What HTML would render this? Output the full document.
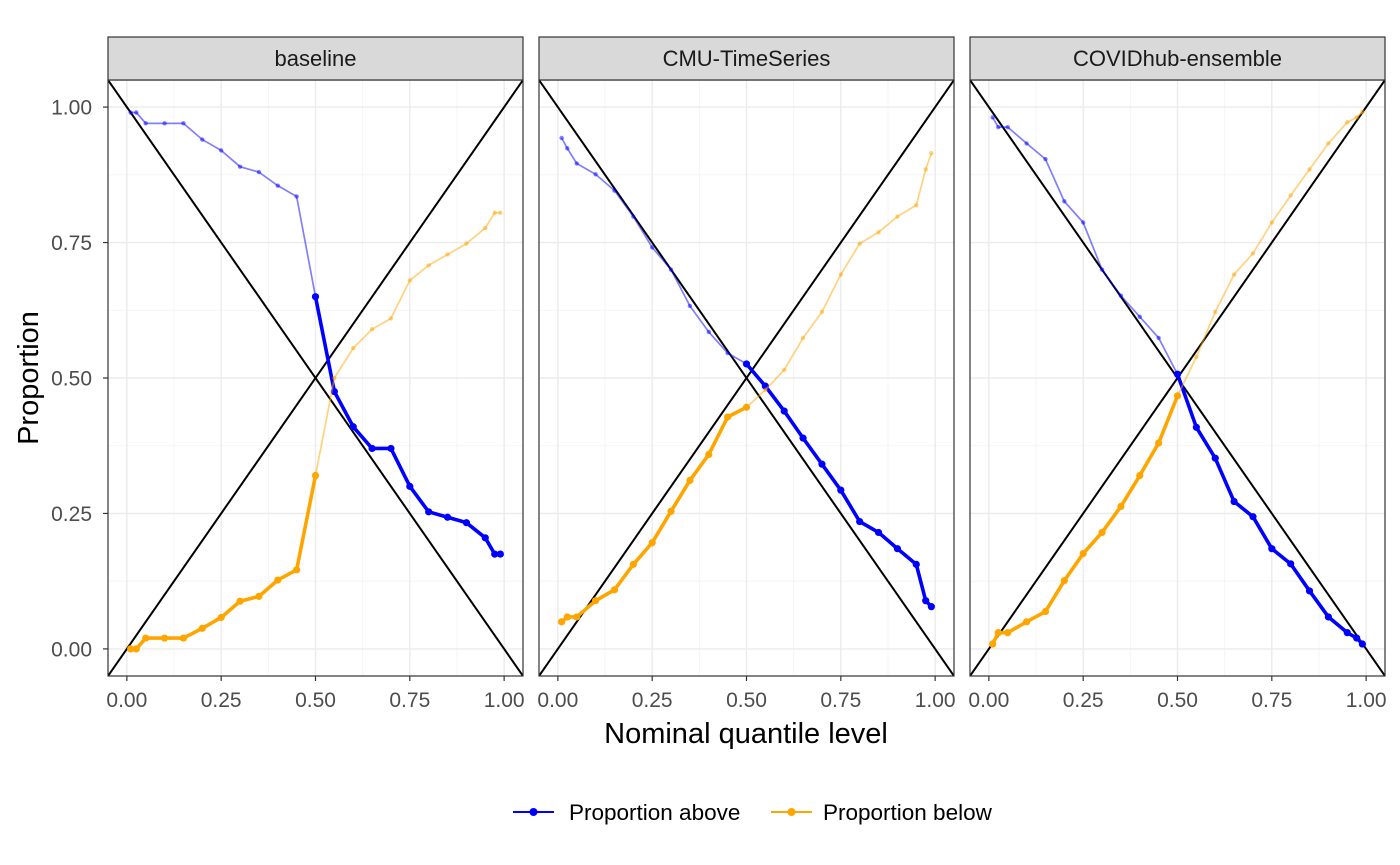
<!DOCTYPE html>
<html><head><meta charset="utf-8"><style>
html,body{margin:0;padding:0;background:#fff;}
svg{display:block;font-family:"Liberation Sans",Arial,sans-serif;}
</style></head><body>
<svg id="chart" width="1400" height="865"></svg>
<script>
const quantiles=[0.01,0.025,0.05,0.1,0.15,0.2,0.25,0.3,0.35,0.4,0.45,0.5,0.55,0.6,0.65,0.7,0.75,0.8,0.85,0.9,0.95,0.975,0.99];
const panelNames=["baseline","CMU-TimeSeries","COVIDhub-ensemble"];
const baselineAbove=[0.99,0.99,0.97,0.97,0.97,0.94,0.92,0.89,0.88,0.855,0.835,0.65,0.475,0.41,0.37,0.37,0.30,0.253,0.243,0.233,0.205,0.175,0.175];
const baselineBelow=[0,0,0.02,0.02,0.02,0.038,0.058,0.088,0.097,0.127,0.146,0.32,0.50,0.555,0.59,0.61,0.68,0.708,0.728,0.748,0.777,0.805,0.805];
const cmuAbove=[0.943,0.924,0.896,0.876,0.846,0.798,0.741,0.70,0.633,0.585,0.546,0.526,0.485,0.439,0.389,0.341,0.293,0.235,0.215,0.185,0.156,0.089,0.078];
const cmuBelow=[0.05,0.059,0.059,0.089,0.109,0.156,0.196,0.254,0.311,0.359,0.428,0.446,0.478,0.515,0.574,0.622,0.691,0.748,0.769,0.798,0.819,0.885,0.915];
const hubAbove=[0.981,0.963,0.963,0.933,0.904,0.826,0.787,0.70,0.652,0.613,0.574,0.507,0.409,0.352,0.272,0.244,0.185,0.157,0.107,0.059,0.03,0.02,0.009];
const hubBelow=[0.009,0.03,0.03,0.05,0.069,0.126,0.176,0.215,0.263,0.32,0.38,0.467,0.539,0.622,0.691,0.73,0.787,0.837,0.885,0.933,0.972,0.981,0.991];
const xTicks=[0,0.25,0.5,0.75,1];
const xTickLabels=["0.00","0.25","0.50","0.75","1.00"];
const yTicks=[0,0.25,0.5,0.75,1];
const yTickLabels=["0.00","0.25","0.50","0.75","1.00"];

const NS="http://www.w3.org/2000/svg";
const svg=document.getElementById("chart");
function mk(tag,attrs,parent){const e=document.createElementNS(NS,tag);for(const k in attrs)e.setAttribute(k,attrs[k]);(parent||svg).appendChild(e);return e;}
const panelLefts=[108,539,970];
const PW=415, PT=80, PB=676;
const XS=PW/1.1, YS=(PB-PT)/1.1;
function sx(p,v){return panelLefts[p]+(v+0.05)*XS;}
function sy(v){return PB-(v+0.05)*YS;}
const series=[[baselineAbove,baselineBelow],[cmuAbove,cmuBelow],[hubAbove,hubBelow]];

yTicks.forEach((t,i)=>{
  const tx=mk("text",{x:92,y:sy(t)+7.5,"text-anchor":"end","font-size":21,fill:"#4d4d4d"});
  tx.textContent=yTickLabels[i];
  
  
  mk("line",{x1:103,x2:108,y1:sy(t),y2:sy(t),stroke:"#333","stroke-width":1.2});
});
const yt=mk("text",{x:38,y:378,"text-anchor":"middle","font-size":29,fill:"#000",transform:"rotate(-90 38 378)"});
yt.textContent="Proportion";



for(let p=0;p<3;p++){
  const L=panelLefts[p];
  const g=mk("g",{});
  
  
  const cid="clip"+p;
  const cp=mk("clipPath",{id:cid},g);mk("rect",{x:L,y:PT,width:PW,height:PB-PT},cp);
  mk("rect",{x:L,y:PT,width:PW,height:PB-PT,fill:"#fff"},g);
  const gg=mk("g",{"clip-path":"url(#"+cid+")"},g);
  for(let v=-0.125;v<=1.125;v+=0.25){
    mk("line",{x1:sx(p,v),x2:sx(p,v),y1:PT,y2:PB,stroke:"#f2f2f2","stroke-width":0.8},gg);
    mk("line",{x1:L,x2:L+PW,y1:sy(v),y2:sy(v),stroke:"#f2f2f2","stroke-width":0.8},gg);
  }
  xTicks.forEach(t=>mk("line",{x1:sx(p,t),x2:sx(p,t),y1:PT,y2:PB,stroke:"#ebebeb","stroke-width":1.4},gg));
  yTicks.forEach(t=>mk("line",{x1:L,x2:L+PW,y1:sy(t),y2:sy(t),stroke:"#ebebeb","stroke-width":1.4},gg));
  const d1=mk("line",{x1:sx(p,-0.1),y1:sy(-0.1),x2:sx(p,1.1),y2:sy(1.1),stroke:"#000","stroke-width":2},gg);
  
  
  const d2=mk("line",{x1:sx(p,-0.1),y1:sy(1.1),x2:sx(p,1.1),y2:sy(-0.1),stroke:"#000","stroke-width":2},gg);
  
  
  const [above,below]=series[p];
  const draw=(vals,color,thickHigh,name)=>{
    const idxThin=[],idxThick=[];
    quantiles.forEach((q,i)=>{ if(thickHigh?q<=0.5:q>=0.5) idxThin.push(i); if(thickHigh?q>=0.5:q<=0.5) idxThick.push(i);});
    const pts=ix=>ix.map(i=>sx(p,quantiles[i])+","+sy(vals[i])).join(" ");
    const thin=mk("polyline",{points:pts(idxThin),fill:"none",stroke:color,"stroke-width":1.7,"stroke-opacity":0.5},gg);
    
    
    idxThin.forEach(i=>{if(idxThick.includes(i))return;
      const c=mk("circle",{cx:sx(p,quantiles[i]),cy:sy(vals[i]),r:2.2,fill:color,"fill-opacity":0.5},gg);
      
      });
    const thick=mk("polyline",{points:pts(idxThick),fill:"none",stroke:color,"stroke-width":3.6,"stroke-linejoin":"round"},gg);
    
    
    idxThick.forEach(i=>{
      const c=mk("circle",{cx:sx(p,quantiles[i]),cy:sy(vals[i]),r:3.6,fill:color},gg);
      
      });
  };
  draw(above,"#0000ff",true,"proportion-above");
  draw(below,"#ffa500",false,"proportion-below");
  mk("rect",{x:L,y:PT,width:PW,height:PB-PT,fill:"none",stroke:"#333","stroke-width":1.2},g);
  const st=mk("rect",{x:L,y:37,width:PW,height:43,fill:"#d9d9d9",stroke:"#333","stroke-width":1.2},g);
  
  
  const sl=mk("text",{x:L+PW/2,y:66,"text-anchor":"middle","font-size":22,fill:"#1a1a1a"},g);
  sl.textContent=panelNames[p];
  
  
  xTicks.forEach((t,i)=>{
    mk("line",{x1:sx(p,t),x2:sx(p,t),y1:PB,y2:PB+5,stroke:"#333","stroke-width":1.2});
    const tx=mk("text",{x:sx(p,t),y:707,"text-anchor":"middle","font-size":21,fill:"#4d4d4d"});
    tx.textContent=xTickLabels[i];
    
    
  });
}
const xt=mk("text",{x:746,y:743,"text-anchor":"middle","font-size":29,fill:"#000"});
xt.textContent="Nominal quantile level";



const lg=mk("g",{});


[["Proportion above","#0000ff",513,569],["Proportion below","#ffa500",771,823]].forEach(([lab,col,lx,tx])=>{
  const e=mk("g",{},lg);
  
  
  mk("line",{x1:lx,x2:lx+41,y1:812,y2:812,stroke:col,"stroke-width":2},e);
  mk("circle",{cx:lx+20.5,cy:812,r:4,fill:col},e);
  const t=mk("text",{x:tx,y:820,"font-size":22.5,fill:"#000"},e);
  t.textContent=lab;
});
</script>
</body></html>
